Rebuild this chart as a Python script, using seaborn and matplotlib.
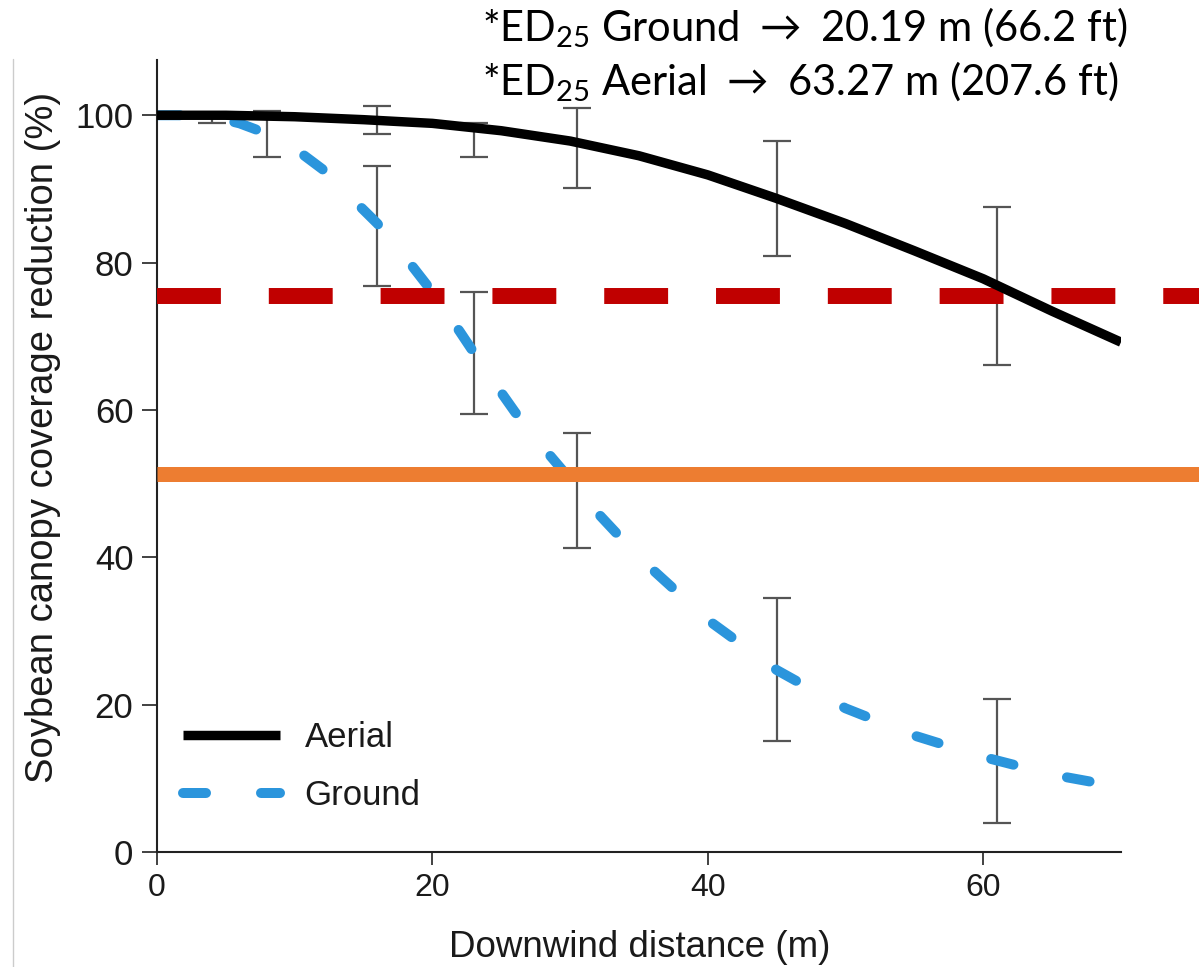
import matplotlib
matplotlib.use("Agg")
import matplotlib.pyplot as plt
from matplotlib.lines import Line2D
import seaborn as sns
import pandas as pd

# ---------------- data ----------------
aerial_dist = [0, 5, 10, 15, 20, 25, 30, 35, 40, 45, 50, 55, 60, 65, 70]
aerial_red = [100, 100, 99.8, 99.4, 98.9, 97.9, 96.5, 94.5, 91.9, 88.7,
              85.3, 81.6, 77.8, 73.4, 69.2]

ground_dist = [0, 2, 4, 6, 8, 10, 12, 14, 16, 18, 20, 22, 24, 26, 28, 30,
               32, 35, 40, 45, 50, 55, 60, 65, 70]
ground_red = [100, 100, 99.8, 98.9, 97.5, 95.5, 92.7, 89.0, 85.3, 80.8,
              76.0, 70.6, 65.0, 59.7, 55.0, 50.6, 46.0, 40.0, 31.5, 24.7,
              19.5, 15.8, 12.9, 10.5, 8.8]

aerial_err_x = [4, 16, 23, 30.5, 45, 61]
aerial_err_lo = [99.0, 97.4, 94.3, 90.1, 80.9, 66.1]
aerial_err_hi = [100.3, 101.2, 98.9, 101.0, 96.5, 87.5]

ground_err_x = [8, 16, 23, 30.5, 45, 61]
ground_err_lo = [94.3, 76.8, 59.4, 41.2, 15.1, 4.0]
ground_err_hi = [100.6, 93.1, 76.0, 56.9, 34.5, 20.8]

ed25_level = 75.45      # red dashed reference line
orange_level = 51.35    # orange reference line

x_ticks = [0, 20, 40, 60]
y_ticks = [0, 20, 40, 60, 80, 100]

header_lines = ["*ED$_{25}$ Ground$\\;\\rightarrow\\;$20.19 m (66.2 ft)",
                "*ED$_{25}$ Aerial$\\;\\rightarrow\\;$63.27 m (207.6 ft)"]

# ---------------- style ----------------
sns.set_theme(style="ticks")
plt.rcParams["font.family"] = ["Liberation Sans", "DejaVu Sans"]
plt.rcParams["mathtext.default"] = "regular"

W, H = 1199, 967
fig = plt.figure(figsize=(W / 100, H / 100), dpi=100)
ax = fig.add_axes([157 / W, 1 - 852 / H, (1121 - 157) / W, (852 - 60) / H])

df_a = pd.DataFrame({"dist": aerial_dist, "red": aerial_red})
df_g = pd.DataFrame({"dist": ground_dist, "red": ground_red})

gray = "#555555"


def draw_err(xs, los, his):
    mid = [(l + h) / 2 for l, h in zip(los, his)]
    half = [(h - l) / 2 for l, h in zip(los, his)]
    ax.errorbar(xs, mid, yerr=[half, half], fmt="none", ecolor=gray,
                elinewidth=1.6, capsize=10, capthick=1.6, zorder=1)


draw_err(aerial_err_x, aerial_err_lo, aerial_err_hi)
draw_err(ground_err_x, ground_err_lo, ground_err_hi)

# curves
sns.lineplot(data=df_g, x="dist", y="red", ax=ax, color="#2B95DC", linewidth=7.2,
             linestyle=(0, (2.3, 5.5)), dash_capstyle="round", label="Ground", zorder=2)
sns.lineplot(data=df_a, x="dist", y="red", ax=ax, color="black", linewidth=6.8,
             solid_capstyle="butt", label="Aerial", zorder=4)

# reference lines (extend beyond the axes to the right edge of the figure)
ext = (W - 157) / (1121 - 157)
ax.axhline(ed25_level, xmin=0, xmax=ext, color="#C00000", linewidth=11.5,
           linestyle=(0, (4, 3)), dash_capstyle="butt", clip_on=False, zorder=3)
ax.axhline(orange_level, xmin=0, xmax=ext, color="#ED7D31", linewidth=10.8,
           solid_capstyle="butt", clip_on=False, zorder=3)

ax.set_xlim(0, 70)
ax.set_ylim(0, 107.5)
ax.set_xticks(x_ticks)
ax.set_yticks(y_ticks)
ax.tick_params(axis="x", labelsize=23, length=9, width=1.3, color="#333333",
               labelcolor="#1a1a1a", pad=6)
ax.tick_params(axis="y", labelsize=25, length=11, width=1.3, color="#333333",
               labelcolor="#1a1a1a", pad=6)
for s in ["top", "right"]:
    ax.spines[s].set_visible(False)
for s in ["left", "bottom"]:
    ax.spines[s].set_linewidth(1.5)
    ax.spines[s].set_color("#222222")

ax.set_xlabel("Downwind distance (m)", fontsize=26.5, color="#1a1a1a")
ax.set_ylabel("Soybean canopy coverage reduction (%)", fontsize=27.5, color="#1a1a1a")
ax.xaxis.set_label_coords((640 - 157) / (1121 - 157), (852 - 930) / (852 - 60))
ax.yaxis.set_label_coords((61 - 157) / (1121 - 157), (852 - 437) / (852 - 60))

# legend: Aerial first, then Ground
handles, labels = ax.get_legend_handles_labels()
order = [labels.index("Aerial"), labels.index("Ground")]
leg = ax.legend([handles[i] for i in order], [labels[i] for i in order],
                loc="lower left", bbox_to_anchor=(0.027, 0.05), frameon=False,
                fontsize=25, handlelength=2.8, handletextpad=0.7, labelspacing=0.74,
                borderpad=0, borderaxespad=0)
for t in leg.get_texts():
    t.set_color("#1a1a1a")

# header text
for i, line in enumerate(header_lines):
    fig.text(482 / W, 1 - (28 + 54 * i) / H, line, fontsize=30,
             family=["Lato", "DejaVu Sans"], fontweight="normal",
             ha="left", va="center", color="black")

# faint screenshot border line at the left
fig.add_artist(Line2D([13 / W, 13 / W], [0, 1 - 59 / H], color="#cccccc", linewidth=1))

fig.savefig("out.png", dpi=100)
